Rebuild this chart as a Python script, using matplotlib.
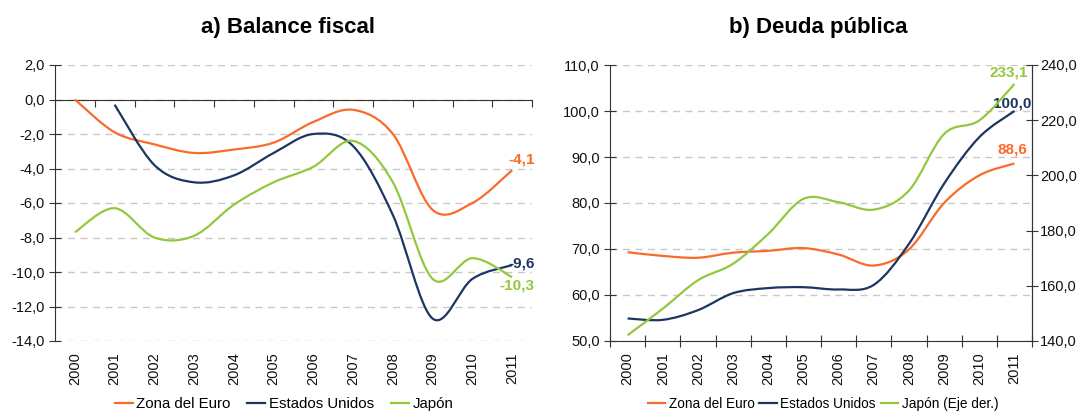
import numpy as np
import matplotlib
matplotlib.use("Agg")
import matplotlib.pyplot as plt
from matplotlib.path import Path
from matplotlib.patches import PathPatch
from matplotlib.lines import Line2D
from matplotlib.ticker import FuncFormatter, MultipleLocator

plt.rcParams['font.family'] = ['Liberation Sans', 'DejaVu Sans']

years = ["2000", "2001", "2002", "2003", "2004", "2005",
         "2006", "2007", "2008", "2009", "2010", "2011"]

# a) Balance fiscal (% PIB)
bal_euro = [0.0, -1.9, -2.6, -3.1, -2.9, -2.5, -1.3, -0.6, -2.0, -6.4, -6.0, -4.1]
bal_eeuu = [None, -0.3, -3.8, -4.8, -4.4, -3.1, -2.0, -2.7, -6.7, -12.7, -10.4, -9.6]
bal_jap = [-7.7, -6.3, -8.0, -7.9, -6.1, -4.8, -3.9, -2.4, -4.8, -10.4, -9.2, -10.3]

# b) Deuda pública (% PIB)
deuda_euro = [69.3, 68.5, 68.1, 69.2, 69.6, 70.2, 68.8, 66.4, 69.9, 80.0, 86.0, 88.6]
deuda_eeuu = [54.9, 54.6, 56.7, 60.4, 61.5, 61.7, 61.2, 62.2, 71.1, 84.2, 94.3, 100.0]
deuda_jap = [142.1, 151.7, 162.0, 168.0, 178.8, 191.5, 190.3, 187.6, 194.5, 215.0, 219.9, 233.1]

c_euro = '#F96A2C'
c_eeuu = '#1C3661'
c_jap = '#93C83E'


def smooth_path(xs, ys):
    # bezier tipo Excel (catmull-rom)
    pts = [(x, y) for x, y in zip(xs, ys) if y is not None]
    p = np.array(pts, dtype=float)
    verts = [p[0]]
    codes = [Path.MOVETO]
    n = len(p)
    for i in range(n - 1):
        p0 = p[i - 1] if i > 0 else p[i]
        p3 = p[i + 2] if i + 2 < n else p[i + 1]
        c1 = p[i] + (p[i + 1] - p0) / 6.0
        c2 = p[i + 1] - (p3 - p[i]) / 6.0
        verts += [c1, c2, p[i + 1]]
        codes += [Path.CURVE4] * 3
    return Path(verts, codes)


def draw(ax, ys, color):
    x = np.arange(len(ys))
    ax.add_patch(PathPatch(smooth_path(x, ys), facecolor='none',
                           edgecolor=color, lw=1.6, zorder=3))


fmt = FuncFormatter(lambda v, p: f"{v:.1f}".replace('.', ','))
dash = (0, (5, 4))
tick_col = '#333333'
W, H = 1085, 413

fig = plt.figure(figsize=(10.85, 4.13), dpi=100)

# ---------- a) Balance fiscal ----------
ax1 = fig.add_axes([55 / W, 1 - 341 / H, 477 / W, 276 / H])
for ys, c in [(bal_euro, c_euro), (bal_eeuu, c_eeuu), (bal_jap, c_jap)]:
    draw(ax1, ys, c)
ax1.set_xlim(-0.5, 11.5)
ax1.set_ylim(-14, 2)
ax1.yaxis.set_major_locator(MultipleLocator(2))
ax1.yaxis.set_major_formatter(fmt)
ax1.yaxis.grid(True, linestyle=dash, color='#C8C8C8', lw=1)
ax1.set_axisbelow(True)
for s in ['top', 'right']:
    ax1.spines[s].set_visible(False)
ax1.spines['bottom'].set_position(('data', 0))
ax1.spines['bottom'].set_color(tick_col)
ax1.spines['left'].set_color(tick_col)
ax1.set_xticks(np.arange(-0.5, 12, 1))
ax1.tick_params(axis='x', direction='out', length=5, color=tick_col, labelbottom=False)
ax1.tick_params(axis='y', direction='inout', length=8, color=tick_col, labelsize=10.5,
                labelcolor='#111111')
sec1 = ax1.secondary_xaxis('bottom')
sec1.set_xticks(np.arange(12))
sec1.set_xticklabels(years, rotation=90, fontsize=10.5, color='#111111')
sec1.tick_params(length=0, pad=8)
sec1.spines['bottom'].set_visible(False)

ax1.text(10.9, -3.45, "-4,1", color=c_euro, fontweight='bold', fontsize=11,
         ha='left', va='center')
ax1.text(10.9, -9.5, "-9,6", color=c_eeuu, fontweight='bold', fontsize=11,
         ha='left', va='center')
ax1.text(10.68, -10.8, "-10,3", color=c_jap, fontweight='bold', fontsize=11,
         ha='left', va='center')

fig.text(288 / W, 1 - 28 / H, "a) Balance fiscal", ha='center', va='center',
         fontsize=16, fontweight='bold')

# ---------- b) Deuda pública ----------
ax2 = fig.add_axes([610 / W, 1 - 341 / H, 422 / W, 276 / H])
draw(ax2, deuda_euro, c_euro)
draw(ax2, deuda_eeuu, c_eeuu)
ax2.set_xlim(-0.5, 11.5)
ax2.set_ylim(50, 110)
ax2.yaxis.set_major_locator(MultipleLocator(10))
ax2.yaxis.set_major_formatter(fmt)
ax2.yaxis.grid(True, linestyle=dash, color='#C8C8C8', lw=1)
ax2.set_axisbelow(True)
ax2.spines['top'].set_visible(False)
for s in ['bottom', 'left', 'right']:
    ax2.spines[s].set_color(tick_col)
ax2.set_xticks(np.arange(-0.5, 12, 1))
ax2.tick_params(axis='x', direction='inout', length=8, color=tick_col, labelbottom=False)
ax2.tick_params(axis='y', direction='inout', length=8, color=tick_col, labelsize=10.5,
                labelcolor='#111111')
sec2 = ax2.secondary_xaxis('bottom')
sec2.set_xticks(np.arange(12))
sec2.set_xticklabels(years, rotation=90, fontsize=10.5, color='#111111')
sec2.tick_params(length=0, pad=8)
sec2.spines['bottom'].set_visible(False)

ax3 = ax2.twinx()
draw(ax3, deuda_jap, c_jap)
ax3.set_xlim(-0.5, 11.5)
ax3.set_ylim(140, 240)
ax3.yaxis.set_major_locator(MultipleLocator(20))
ax3.yaxis.set_major_formatter(fmt)
for s in ['top', 'left', 'bottom']:
    ax3.spines[s].set_visible(False)
ax3.spines['right'].set_color(tick_col)
ax3.tick_params(axis='y', direction='inout', length=8, color=tick_col, labelsize=10.5,
                labelcolor='#111111', pad=2)

ax2.text(10.3, 108.3, "233,1", color=c_jap, fontweight='bold', fontsize=11,
         ha='left', va='center', zorder=5)
ax2.text(10.38, 101.7, "100,0", color=c_eeuu, fontweight='bold', fontsize=11,
         ha='left', va='center', zorder=5)
ax2.text(10.52, 91.6, "88,6", color=c_euro, fontweight='bold', fontsize=11,
         ha='left', va='center', zorder=5)

fig.text(818 / W, 1 - 28 / H, "b) Deuda pública", ha='center', va='center',
         fontsize=16, fontweight='bold')

# ---------- legends ----------
h = [Line2D([], [], color=c, lw=1.6) for c in (c_euro, c_eeuu, c_jap)]
fig.legend(h, ["Zona del Euro", "Estados Unidos", "Japón"], loc='center',
           bbox_to_anchor=(284 / W, 1 - 404 / H), ncol=3, frameon=False,
           fontsize=10.8, handlelength=1.2, handletextpad=0.25, columnspacing=1.1)
fig.legend(h, ["Zona del Euro", "Estados Unidos", "Japón (Eje der.)"], loc='center',
           bbox_to_anchor=(823 / W, 1 - 404 / H), ncol=3, frameon=False,
           fontsize=9.8, handlelength=1.3, handletextpad=0.25, columnspacing=0.35)

fig.savefig("out.png", dpi=100)
